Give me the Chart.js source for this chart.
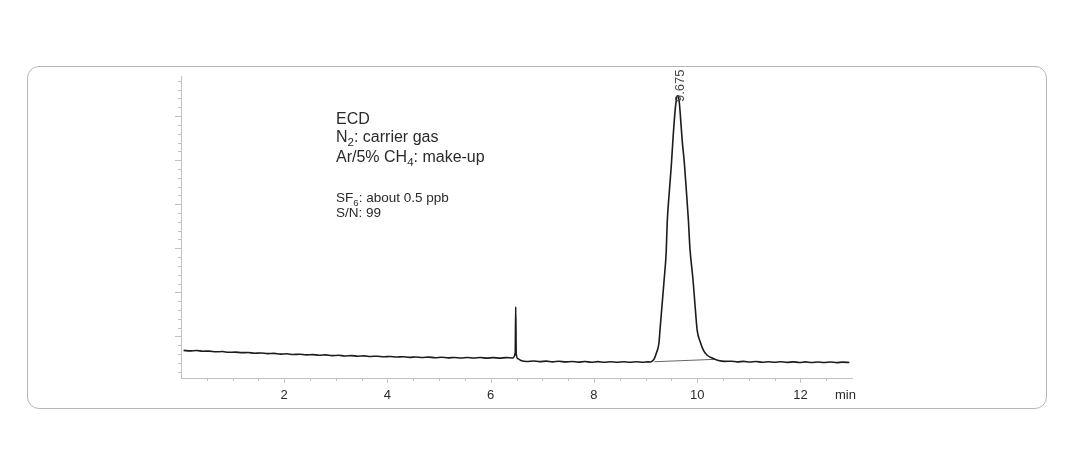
<!DOCTYPE html>
<html>
<head>
<meta charset="utf-8">
<script src="https://cdn.jsdelivr.net/npm/chart.js@4.4.1/dist/chart.umd.min.js"></script>
<style>
  html, body { margin: 0; padding: 0; background: #fff; }
  #wrap { position: relative; width: 1067px; height: 469px; }
  #frame {
    position: absolute; left: 27px; top: 66px; width: 1018px; height: 341px;
    border: 1.5px solid #b5b5b5; border-radius: 12px;
  }
  #chart { position: absolute; left: 0; top: 0; }
</style>
</head>
<body>
<div id="wrap">
  <div id="frame"></div>
  <canvas id="chart" width="1067" height="469"></canvas>
</div>
<script>
// Chromatogram values (time in min, signal in arbitrary units)
const retentionTimes = [
  0.05, 0.175, 0.3, 0.425, 0.55, 0.675, 0.8, 0.925, 1.05, 1.175, 1.3, 1.425, 1.55, 1.675,
  1.8, 1.925, 2.05, 2.175, 2.3, 2.425, 2.55, 2.675, 2.8, 2.925, 3.05, 3.175, 3.3, 3.425,
  3.55, 3.675, 3.8, 3.925, 4.05, 4.175, 4.3, 4.425, 4.55, 4.675, 4.8, 4.925, 5.05, 5.175,
  5.3, 5.425, 5.55, 5.675, 5.8, 5.925, 6.05, 6.175, 6.3, 6.42,
  6.475, 6.485, 6.495, 6.53, 6.6,
  6.7, 6.825, 6.95, 7.075, 7.2, 7.325, 7.45, 7.575, 7.7, 7.825, 7.95, 8.075, 8.2, 8.325,
  8.45, 8.575, 8.7, 8.825, 8.95, 9.04,
  9.09, 9.13, 9.17, 9.21, 9.26, 9.28, 9.32, 9.36, 9.40, 9.42, 9.46, 9.50, 9.53, 9.57, 9.59, 9.61, 9.63,
  9.65, 9.67, 9.71, 9.75, 9.79, 9.83, 9.86, 9.92, 9.96, 10.00, 10.06, 10.12, 10.19, 10.29, 10.41, 10.54,
  10.66, 10.78, 10.9, 11.02, 11.14, 11.26, 11.38, 11.5, 11.62, 11.74, 11.86, 11.98, 12.1, 12.22,
  12.34, 12.46, 12.58, 12.7, 12.82, 12.95
];
const detectorSignal = [
  6.82, 6.70, 6.78, 6.62, 6.66, 6.50, 6.55, 6.38, 6.42, 6.30, 6.33, 6.18, 6.22, 6.08,
  6.14, 5.97, 6.04, 5.88, 5.95, 5.80, 5.86, 5.72, 5.80, 5.64, 5.70, 5.56, 5.64, 5.50,
  5.57, 5.44, 5.50, 5.36, 5.44, 5.30, 5.38, 5.24, 5.32, 5.20, 5.29, 5.16, 5.25, 5.12,
  5.22, 5.10, 5.20, 5.08, 5.19, 5.06, 5.18, 5.07, 5.17, 5.10,
  6.2, 16.7, 6.0, 4.9, 4.45,
  4.30, 4.42, 4.26, 4.38, 4.22, 4.34, 4.20, 4.30, 4.16, 4.28, 4.14, 4.26, 4.13, 4.25,
  4.12, 4.24, 4.12, 4.24, 4.14, 4.22,
  4.18, 4.40, 4.97, 6.22, 8.49, 11.44, 17.1, 22.8, 29.1, 35.9, 42.7, 48.9, 54.5, 60.9, 63.1, 64.5, 64.6,
  63.6, 60.9, 54.5, 49.6, 43.2, 36.4, 30.0, 22.8, 16.9, 11.44, 8.7, 6.9, 5.76, 5.08, 4.52, 4.33,
  4.36, 4.22, 4.32, 4.18, 4.28, 4.14, 4.25, 4.13, 4.24, 4.10, 4.22, 4.08, 4.20, 4.07,
  4.18, 4.06, 4.17, 4.05, 4.15, 4.06
];
// Integration baseline drawn under the SF6 peak
const baselineTimes = [9.17, 10.35];
const baselineSignal = [4.24, 4.79];
// Peak label
const peakTime = 9.675;
const peakText = '9.675';
// x axis labels every 2 min
const xLabels = [2, 4, 6, 8, 10, 12];

const FONT = '"Liberation Sans", Arial, sans-serif';
const TEXT = '#2a2a2a';
const AXIS = '#c2c2c2';

// Tick marks: major and minor with different lengths
const tickMarks = {
  id: 'tickMarks',
  afterDraw(chart) {
    const ctx = chart.ctx;
    const x = chart.scales.x;
    const y = chart.scales.y;
    const area = chart.chartArea;
    ctx.save();
    ctx.strokeStyle = AXIS;
    ctx.lineWidth = 1;
    ctx.beginPath();
    for (let v = 0.5; v <= 12.5; v += 0.5) {
      const px = Math.round(x.getPixelForValue(v)) + 0.5;
      const len = (v % 2 === 0) ? 5 : 3;
      ctx.moveTo(px, area.bottom);
      ctx.lineTo(px, area.bottom + len);
    }
    for (let v = 2; v <= 68; v += 2) {
      const py = Math.round(y.getPixelForValue(v)) + 0.5;
      const len = (v % 10 === 0) ? 6 : 3;
      ctx.moveTo(area.left, py);
      ctx.lineTo(area.left - len, py);
    }
    ctx.stroke();
    ctx.restore();
  }
};

// Draws text with subscript parts
function richText(ctx, parts, x, y, size) {
  let cx = x;
  parts.forEach(p => {
    const s = p.sub ? size * 0.72 : size;
    ctx.font = s + 'px ' + FONT;
    ctx.fillText(p.t, cx, p.sub ? y + size * 0.28 : y);
    cx += ctx.measureText(p.t).width;
  });
}

const annotations = {
  id: 'annotations',
  afterDraw(chart) {
    const ctx = chart.ctx;
    const x = chart.scales.x;
    ctx.save();
    ctx.fillStyle = TEXT;
    ctx.textBaseline = 'alphabetic';
    ctx.textAlign = 'left';
    richText(ctx, [{ t: 'ECD' }], 336, 124, 16);
    richText(ctx, [{ t: 'N' }, { t: '2', sub: true }, { t: ': carrier gas' }], 336, 142, 16);
    richText(ctx, [{ t: 'Ar/5% CH' }, { t: '4', sub: true }, { t: ': make-up' }], 336, 161.5, 16);
    richText(ctx, [{ t: 'SF' }, { t: '6', sub: true }, { t: ': about 0.5 ppb' }], 336, 202, 13.5);
    richText(ctx, [{ t: 'S/N: 99' }], 336, 217, 13.5);

    // retention time label, rotated
    ctx.save();
    ctx.translate(x.getPixelForValue(peakTime) + 4, 102);
    ctx.rotate(-Math.PI / 2);
    ctx.font = '13px ' + FONT;
    ctx.fillStyle = '#444';
    ctx.textAlign = 'left';
    ctx.textBaseline = 'alphabetic';
    ctx.fillText(peakText, 0, 0);
    ctx.restore();

    // unit label
    ctx.font = '13px ' + FONT;
    ctx.fillStyle = TEXT;
    ctx.fillText('min', 835, 399);
    ctx.restore();
  }
};

const ctx = document.getElementById('chart').getContext('2d');
new Chart(ctx, {
  type: 'line',
  data: {
    datasets: [
      {
        data: retentionTimes.map((t, i) => ({ x: t, y: detectorSignal[i] })),
        borderColor: '#1c1c1c',
        borderWidth: 1.6,
        pointRadius: 0,
        cubicInterpolationMode: 'monotone'
      },
      {
        data: baselineTimes.map((t, i) => ({ x: t, y: baselineSignal[i] })),
        borderColor: '#666',
        borderWidth: 1,
        pointRadius: 0
      }
    ]
  },
  options: {
    responsive: false,
    animation: false,
    layout: { padding: { left: 161, right: 215, top: 76, bottom: 61 } },
    plugins: {
      legend: { display: false },
      tooltip: { enabled: false }
    },
    scales: {
      x: {
        type: 'linear',
        min: 0,
        max: 13,
        afterFit: s => { s.height = 30; },
        grid: { display: false, drawTicks: false },
        border: { display: true, color: AXIS, width: 1 },
        ticks: {
          stepSize: 2,
          padding: 10,
          autoSkip: false,
          maxRotation: 0,
          color: TEXT,
          font: { family: FONT, size: 13 },
          callback: v => xLabels.includes(v) ? String(v) : ''
        }
      },
      y: {
        min: 0.55,
        max: 69.1,
        afterFit: s => { s.width = 20; },
        grid: { display: false, drawTicks: false },
        border: { display: true, color: AXIS, width: 1 },
        ticks: { display: false }
      }
    }
  },
  plugins: [tickMarks, annotations]
});
</script>
</body>
</html>
